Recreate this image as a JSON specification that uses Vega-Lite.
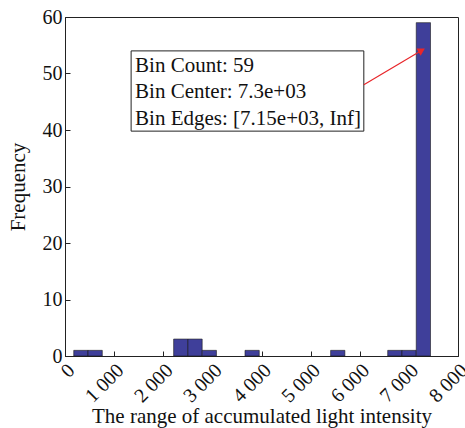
{
  "$schema": "https://vega.github.io/schema/vega-lite/v6.json",
  "width": 393,
  "height": 339,
  "autosize": {"type": "none"},
  "padding": {"left": 65, "top": 17, "right": 7, "bottom": 72},
  "background": "white",
  "config": {
    "view": {"stroke": "#222222", "strokeWidth": 1},
    "font": "Liberation Serif",
    "axis": {
      "grid": false,
      "domainColor": "#222222",
      "tickColor": "#222222",
      "labelFont": "Liberation Serif",
      "titleFont": "Liberation Serif",
      "labelFontSize": 20,
      "titleFontSize": 21,
      "titleFontWeight": "normal",
      "labelColor": "#111111",
      "titleColor": "#111111",
      "tickSize": -5
    }
  },
  "datasets": {
    "bins": [
      {"start": 178, "end": 468.5, "count": 1},
      {"start": 468.5, "end": 759, "count": 1},
      {"start": 2211.5, "end": 2502, "count": 3},
      {"start": 2502, "end": 2792.5, "count": 3},
      {"start": 2792.5, "end": 3083, "count": 1},
      {"start": 3664, "end": 3954.5, "count": 1},
      {"start": 5407, "end": 5697.5, "count": 1},
      {"start": 6569, "end": 6859.5, "count": 1},
      {"start": 6859.5, "end": 7150, "count": 1},
      {"start": 7150, "end": 7440.5, "count": 59}
    ],
    "box": [{"x1": 1346, "x2": 6083, "y1": 39.8, "y2": 54.0}],
    "lines": [
      {"x": 1427, "y": 51.4, "label": "Bin Count: 59"},
      {"x": 1427, "y": 46.7, "label": "Bin Center: 7.3e+03"},
      {"x": 1427, "y": 42.0, "label": "Bin Edges: [7.15e+03, Inf]"}
    ],
    "arrow": [{"x1": 6083, "y1": 48.0, "x2": 7240, "y2": 54.0}]
  },
  "layer": [
    {
      "data": {"name": "bins"},
      "mark": {"type": "rect", "fill": "#3f3f9a", "stroke": "#1a1a1a", "strokeWidth": 0.6},
      "encoding": {
        "x": {"field": "start", "type": "quantitative", "scale": {"domain": [0, 8000], "nice": false},
          "axis": {"values": [0,1000,2000,3000,4000,5000,6000,7000,8000], "labelAngle": -45, "labelBaseline": "middle", "labelOffset": 6, "labelExpr": "datum.value >= 1000 ? floor(datum.value/1000) + ' 000' : datum.value + ''", "title": "The range of accumulated light intensity", "labelPadding": 16, "titlePadding": 0}},
        "x2": {"field": "end"},
        "y": {"field": "count", "type": "quantitative", "scale": {"domain": [0, 60], "nice": false},
          "axis": {"values": [0,10,20,30,40,50,60], "title": "Frequency", "labelPadding": 8, "titlePadding": 14}},
        "y2": {"datum": 0}
      }
    },
    {
      "data": {"name": "box"},
      "mark": {"type": "rect", "fill": "white", "stroke": "#222222", "strokeWidth": 1},
      "encoding": {
        "x": {"field": "x1", "type": "quantitative"},
        "x2": {"field": "x2"},
        "y": {"field": "y1", "type": "quantitative"},
        "y2": {"field": "y2"}
      }
    },
    {
      "data": {"name": "lines"},
      "mark": {"type": "text", "align": "left", "baseline": "middle", "fontSize": 21, "font": "Liberation Serif", "color": "#111111"},
      "encoding": {
        "x": {"field": "x", "type": "quantitative"},
        "y": {"field": "y", "type": "quantitative"},
        "text": {"field": "label"}
      }
    },
    {
      "data": {"name": "arrow"},
      "mark": {"type": "rule", "color": "#e8262a", "strokeWidth": 1.2},
      "encoding": {
        "x": {"field": "x1", "type": "quantitative"},
        "y": {"field": "y1", "type": "quantitative"},
        "x2": {"field": "x2"},
        "y2": {"field": "y2"}
      }
    },
    {
      "data": {"name": "arrow"},
      "mark": {"type": "point", "shape": "triangle", "filled": true, "color": "#e8262a", "size": 70, "opacity": 1, "angle": 60},
      "encoding": {
        "x": {"field": "x2", "type": "quantitative"},
        "y": {"field": "y2", "type": "quantitative"}
      }
    }
  ]
}
